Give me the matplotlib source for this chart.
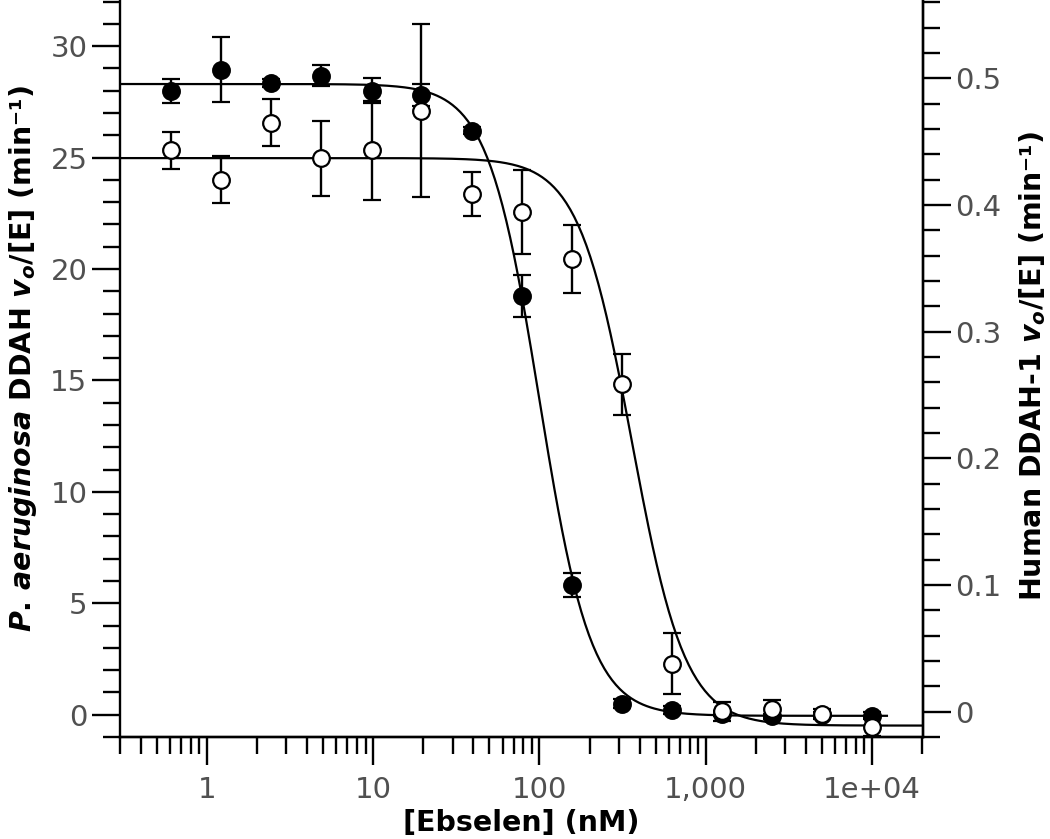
import numpy as np
import matplotlib
matplotlib.use("Agg")
import matplotlib.pyplot as plt
from matplotlib.ticker import LogLocator, MultipleLocator, FuncFormatter, NullFormatter

plt.rcParams['font.family'] = ['DejaVu Sans']
plt.rcParams['mathtext.fontset'] = 'custom'
plt.rcParams['mathtext.it'] = 'DejaVu Sans:italic:bold'
plt.rcParams['mathtext.rm'] = 'DejaVu Sans:bold'
plt.rcParams['mathtext.bf'] = 'DejaVu Sans:bold'

# ebselen concentrations (nM), 2-fold dilutions
conc = [0.61, 1.22, 2.44, 4.88, 9.77, 19.5, 39.1, 78.1, 156, 312, 625, 1250, 2500, 5000, 10000]

# P. aeruginosa DDAH (filled, left axis)
pa_rate = [28.0, 28.95, 28.33, 28.67, 28.0, 27.8, 26.2, 18.8, 5.83, 0.49, 0.22, 0.05, -0.08, 0.0, -0.05]
pa_err = [0.53, 1.45, 0.18, 0.47, 0.56, 0.5, 0.15, 0.95, 0.55, 0.2, 0.18, 0.1, 0.1, 0.1, 0.15]

# human DDAH-1 (open, right axis)
hu_rate = [0.443, 0.420, 0.465, 0.437, 0.443, 0.4745, 0.4085, 0.3943, 0.3571, 0.2585, 0.038, 0.0003, 0.002, -0.002, -0.012]
hu_err = [0.0145, 0.0185, 0.0185, 0.0296, 0.0389, 0.0686, 0.0173, 0.033, 0.0267, 0.024, 0.024, 0.0074, 0.007, 0.004, 0.007]

# fitted dose-response parameters: top, bottom, IC50 (nM), Hill slope, x-range of fit line
pa_fit = (28.3, -0.05, 100.0, 2.8, 0.3, 12300)
hu_fit = (0.437, -0.011, 360.0, 2.7, 0.3, 20000)

xtick_vals = [1, 10, 100, 1000, 10000]
xtick_labels = ['1', '10', '100', '1,000', '1e+04']


def hill(x, top, bottom, ic50, n):
    return bottom + (top - bottom) / (1 + (x / ic50) ** n)


fig = plt.figure(figsize=(10.5, 8.39), dpi=100)
ax1 = fig.add_axes([0.1143, 0.1216, 0.7645, 0.8784])
ax2 = ax1.twinx()

grey = '#505050'
lw = 1.7

top, bot, ic, n, x0, x1 = pa_fit
xf = np.logspace(np.log10(x0), np.log10(x1), 400)
ax1.plot(xf, hill(xf, top, bot, ic, n), color='black', lw=1.6, zorder=2)
ax1.errorbar(conc, pa_rate, yerr=pa_err, fmt='o', color='black', mfc='black', mec='black',
             ms=12, mew=1.6, capsize=6.3, elinewidth=lw, capthick=lw, zorder=3)

top, bot, ic, n, x0, x1 = hu_fit
xf = np.logspace(np.log10(x0), np.log10(x1), 400)
ax2.plot(xf, hill(xf, top, bot, ic, n), color='black', lw=1.6, zorder=2)
ax2.errorbar(conc, hu_rate, yerr=hu_err, fmt='o', color='black', mfc='white', mec='black',
             ms=12, mew=1.6, capsize=6.3, elinewidth=lw, capthick=lw, zorder=3)

ax1.set_xscale('log')
ax1.set_xlim(0.3, 2.02e4)
ax1.set_ylim(-1.0, 32.07)
ax2.set_ylim(-0.02, 0.5618)

ax1.set_xticks(xtick_vals, xtick_labels)
ax1.xaxis.set_minor_locator(LogLocator(base=10, subs=np.arange(2, 10), numticks=20))
ax1.xaxis.set_minor_formatter(NullFormatter())
ax1.yaxis.set_major_locator(MultipleLocator(5))
ax1.yaxis.set_minor_locator(MultipleLocator(1))
ax2.yaxis.set_major_locator(MultipleLocator(0.1))
ax2.yaxis.set_minor_locator(MultipleLocator(0.02))
ax2.yaxis.set_major_formatter(FuncFormatter(lambda v, p: '%g' % round(v, 3)))

for ax in (ax1, ax2):
    ax.spines['top'].set_visible(False)
    for s in ax.spines.values():
        s.set_linewidth(lw)
    ax.tick_params(which='major', length=20, width=lw, labelsize=21, labelcolor=grey)
    ax.tick_params(which='minor', length=12, width=lw)
    ax.tick_params(axis='y', which='major', pad=3.5)
ax1.tick_params(axis='x', which='major', pad=8)
ax2.spines['left'].set_visible(False)

fig.text(0.022, 0.573,
         r'$\mathit{P.\,aeruginosa}$ DDAH $\mathit{v}_{\mathit{o}}$/[E] (min⁻¹)',
         rotation=90, ha='center', va='center', fontsize=20.5, fontweight='bold')
fig.text(0.983, 0.564,
         r'Human DDAH-1 $\mathit{v}_{\mathit{o}}$/[E] (min⁻¹)',
         rotation=90, ha='center', va='center', fontsize=20.5, fontweight='bold')
fig.text(0.496, 0.019, '[Ebselen] (nM)', ha='center', va='center', fontsize=20.5, fontweight='bold')

fig.savefig('out.png', dpi=100)
